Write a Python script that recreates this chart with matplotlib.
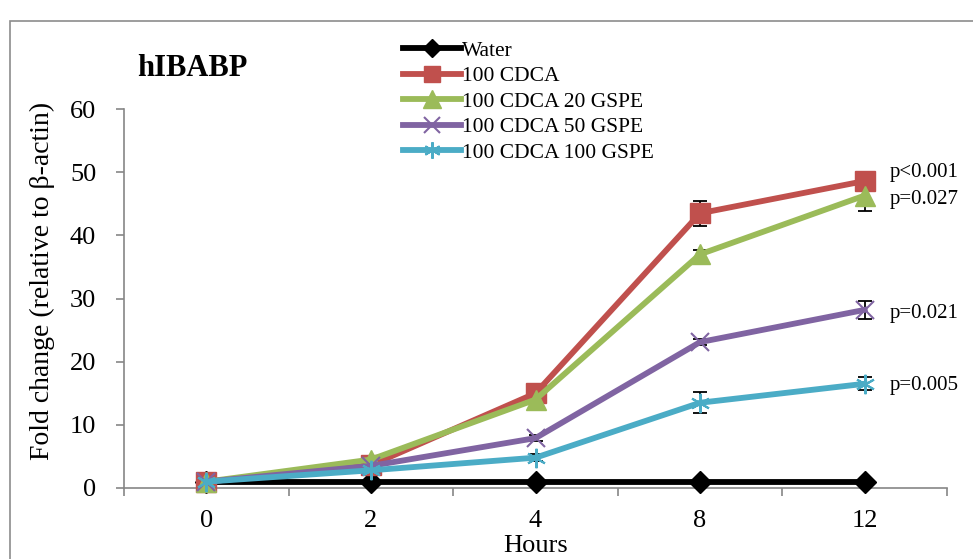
import matplotlib
matplotlib.use("Agg")
import matplotlib.pyplot as plt
from matplotlib.patches import Rectangle
import numpy as np

plt.rcParams['font.family'] = ['Liberation Serif', 'DejaVu Serif']

hours = ["0", "2", "4", "8", "12"]
series_names = ["Water", "100 CDCA", "100 CDCA 20 GSPE", "100 CDCA 50 GSPE", "100 CDCA 100 GSPE"]
water = [1.0, 1.0, 1.0, 1.0, 1.0]
cdca = [1.0, 3.6, 15.0, 43.5, 48.6]
gspe20 = [1.0, 4.5, 14.0, 37.0, 46.3]
gspe50 = [1.0, 3.5, 7.9, 23.1, 28.2]
gspe100 = [1.0, 2.8, 4.8, 13.5, 16.5]
err_water = [0.0, 0.0, 0.0, 0.0, 0.0]
err_cdca = [0.2, 0.3, 1.0, 2.0, 0.6]
err_gspe20 = [0.2, 0.3, 0.5, 0.6, 2.5]
err_gspe50 = [0.2, 0.3, 0.5, 0.5, 1.4]
err_gspe100 = [0.2, 0.3, 0.6, 1.7, 1.0]
pvals = ["p<0.001", "p=0.027", "p=0.021", "p=0.005"]
pval_y = [50.0, 45.7, 27.7, 16.3]

colors = ["#000000", "#C0504D", "#9BBB59", "#8064A2", "#4BACC6"]
markers = ["D", "s", "^", "x", (6, 2, 0)]
msizes = [11, 14, 15, 13, 14]

fig = plt.figure(figsize=(9.73, 5.59), dpi=100)
fig.patches.append(Rectangle((10/973, -0.1), 1.0, 1 - 21/559 + 0.1, transform=fig.transFigure,
                             fill=False, edgecolor="#8C8C8C", linewidth=1.2, zorder=0))
ax = fig.add_axes([124/973, 1 - 488/559, (947 - 124)/973, (488 - 109)/559])

x = np.arange(len(hours))
data = [water, cdca, gspe20, gspe50, gspe100]
errs = [err_water, err_cdca, err_gspe20, err_gspe50, err_gspe100]
for i, (vals, e) in enumerate(zip(data, errs)):
    if i > 0:
        ax.errorbar(x, vals, yerr=e, fmt='none', ecolor='black', elinewidth=1.3,
                    capsize=5, capthick=1.3, zorder=2 + i * 0.1, clip_on=False)
    mew = 1.5 if i >= 3 else 1.0
    ax.plot(x, vals, color=colors[i], linewidth=4.2, marker=markers[i], markersize=msizes[i],
            markeredgewidth=mew, markeredgecolor=colors[i], label=series_names[i],
            zorder=3 + i * 0.1, clip_on=False)

for t, yv in zip(pvals, pval_y):
    ax.text(4.15, yv, t, fontsize=15, va='center', ha='left')

ax.set_xlim(-0.5, 4.5)
ax.set_ylim(0, 60)
ax.set_yticks(np.arange(0, 61, 10))
ax.set_xticks(x)
ax.set_xticklabels(hours)
ax.set_xticks(np.arange(-0.5, 4.6, 1.0), minor=True)
ax.tick_params(axis='x', which='major', length=0, pad=16, labelsize=19)
ax.tick_params(axis='x', which='minor', length=6, direction='out', color='#868686', width=1.2)
ax.tick_params(axis='y', which='major', length=6, direction='out', color='#868686', width=1.2,
               pad=14, labelsize=19)
for s in ['top', 'right']:
    ax.spines[s].set_visible(False)
for s in ['left', 'bottom']:
    ax.spines[s].set_color('#868686')
    ax.spines[s].set_linewidth(1.2)

ax.set_xlabel("Hours", fontsize=19, labelpad=2)
ax.set_ylabel("Fold change (relative to β-actin)", fontsize=20)
ax.yaxis.set_label_coords(-0.084, 0.546)

fig.text(137/973, 1 - 68/559, "hIBABP", fontsize=22, fontweight='bold', va='center', ha='left')

fig.legend(loc='upper left', bbox_to_anchor=(392/973, 1 - 30/559), frameon=False,
           fontsize=15.5, handlelength=2.7, handletextpad=0.05, labelspacing=0.25,
           borderpad=0, markerscale=0.85)

fig.savefig("out.png", dpi=100)
